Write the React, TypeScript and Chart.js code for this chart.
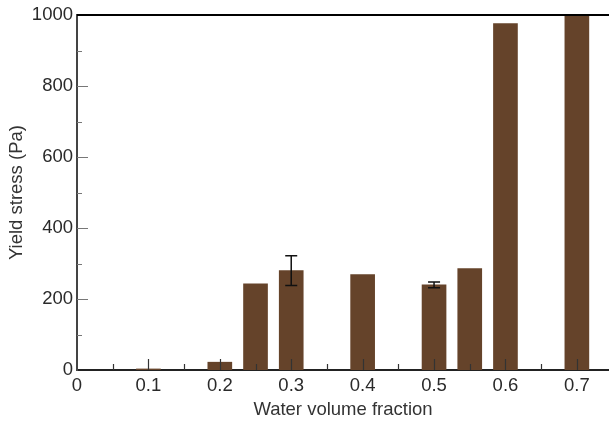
import React, { useEffect, useRef } from "react";
import { Chart, registerables } from "chart.js";

Chart.register(...registerables);

const xValues = [0.1, 0.2, 0.25, 0.3, 0.4, 0.5, 0.55, 0.6, 0.7];
const yieldStress = [3, 22, 243, 280, 269, 240, 286, 976, 1000];
const errors = [0, 0, 0, 42, 0, 8, 0, 0, 0];
const xTickValues = [0, 0.1, 0.2, 0.3, 0.4, 0.5, 0.6, 0.7];
const xMinorTicks = [0.05, 0.15, 0.25, 0.35, 0.45, 0.55, 0.65];
const yTickValues = [0, 200, 400, 600, 800, 1000];
const yMinorTicks = [100, 300, 500, 700, 900];

const FONT = "'Liberation Sans', Arial, sans-serif";

const decorPlugin = {
  id: "decor",
  afterDatasetsDraw(chart: any) {
    const { ctx, chartArea, scales } = chart;
    const xs = scales.x;
    const ys = scales.y;
    ctx.save();
    ctx.strokeStyle = "#111";
    ctx.lineWidth = 1.5;
    xValues.forEach((xv, i) => {
      const e = errors[i];
      if (!e) return;
      const px = xs.getPixelForValue(xv);
      const top = ys.getPixelForValue(yieldStress[i] + e);
      const bot = ys.getPixelForValue(yieldStress[i] - e);
      ctx.beginPath();
      ctx.moveTo(px, top);
      ctx.lineTo(px, bot);
      ctx.moveTo(px - 6, top);
      ctx.lineTo(px + 6, top);
      ctx.moveTo(px - 6, bot);
      ctx.lineTo(px + 6, bot);
      ctx.stroke();
    });
    ctx.strokeStyle = "#333";
    ctx.lineWidth = 1.2;
    const b = chartArea.bottom;
    ctx.beginPath();
    xTickValues.forEach((v) => {
      if (v === 0) return;
      const px = Math.round(xs.getPixelForValue(v)) + 0.5;
      ctx.moveTo(px, b);
      ctx.lineTo(px, b - 11);
    });
    xMinorTicks.forEach((v) => {
      const px = Math.round(xs.getPixelForValue(v)) + 0.5;
      ctx.moveTo(px, b);
      ctx.lineTo(px, b - 6);
    });
    ctx.stroke();
    ctx.strokeStyle = "#777";
    const l = chartArea.left;
    ctx.beginPath();
    yTickValues.forEach((v) => {
      if (v === 0 || v === 1000) return;
      const py = Math.round(ys.getPixelForValue(v)) + 0.5;
      ctx.moveTo(l, py);
      ctx.lineTo(l + 11, py);
    });
    yMinorTicks.forEach((v) => {
      const py = Math.round(ys.getPixelForValue(v)) + 0.5;
      ctx.moveTo(l, py);
      ctx.lineTo(l + 5, py);
    });
    ctx.stroke();
    ctx.strokeStyle = "#000";
    ctx.lineWidth = 2;
    ctx.beginPath();
    ctx.moveTo(chartArea.left, chartArea.top);
    ctx.lineTo(chartArea.right, chartArea.top);
    ctx.stroke();
    ctx.restore();
  },
};

export default function App() {
  const ref = useRef<HTMLCanvasElement | null>(null);
  useEffect(() => {
    if (!ref.current) return;
    const chart = new Chart(ref.current, {
      type: "bar",
      data: {
        datasets: [
          {
            label: "Yield stress",
            data: xValues.map((x, i) => ({ x, y: yieldStress[i] })),
            backgroundColor: "#65432a",
            borderWidth: 0,
            barThickness: 24,
          },
        ],
      },
      options: {
        responsive: false,
        animation: false,
        layout: { padding: { top: 14, right: 0, left: 0, bottom: 0 } },
        plugins: { legend: { display: false }, tooltip: { enabled: false } },
        scales: {
          x: {
            type: "linear",
            min: 0,
            max: 0.745,
            offset: false,
            grid: { display: false, drawTicks: false, tickLength: 0 },
            border: { display: true, color: "#222", width: 2 },
            afterBuildTicks: (s: any) => {
              s.ticks = xTickValues.map((v) => ({ value: v }));
            },
            afterFit: (s: any) => {
              s.height = 52;
            },
            ticks: {
              padding: 5,
              color: "#2a2a2a",
              font: { family: FONT, size: 18.5 },
              maxRotation: 0,
              autoSkip: false,
              callback: (v: any) => (v === 0 ? "0" : Number(v).toFixed(1)),
            },
            title: {
              display: true,
              text: "Water volume fraction",
              color: "#333",
              font: { family: FONT, size: 18.5 },
              padding: { top: 0, bottom: 1 },
            },
          },
          y: {
            type: "linear",
            min: 0,
            max: 1000,
            grid: { display: false, drawTicks: false, tickLength: 0 },
            border: { display: true, color: "#444", width: 2 },
            afterBuildTicks: (s: any) => {
              s.ticks = yTickValues.map((v) => ({ value: v }));
            },
            afterFit: (s: any) => {
              s.width = 77;
            },
            ticks: {
              padding: 4,
              color: "#2a2a2a",
              font: { family: FONT, size: 18.5 },
              autoSkip: false,
              callback: (v: any) => String(v),
            },
            title: {
              display: true,
              text: "Yield stress (Pa)",
              color: "#333",
              font: { family: FONT, size: 18.5 },
              padding: { top: 6, bottom: 0 },
            },
          },
        },
      },
      plugins: [decorPlugin],
    });
    return () => chart.destroy();
  }, []);
  return (
    <div style={{ position: "absolute", left: 0, top: 0, width: 609, height: 422 }}>
      <canvas ref={ref} width={609} height={422} />
    </div>
  );
}
